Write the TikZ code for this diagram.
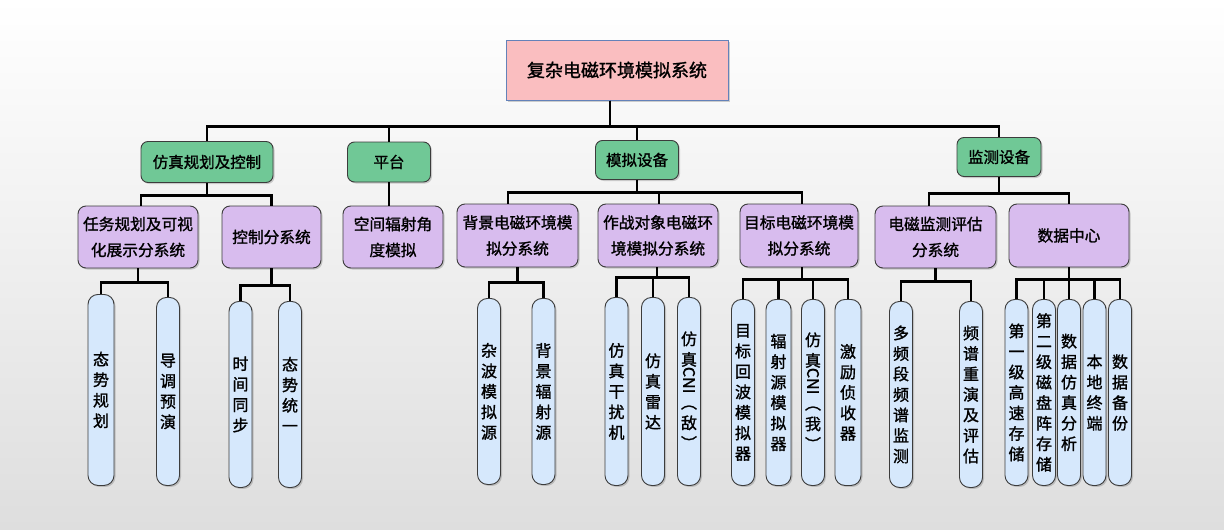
\documentclass[tikz,border=0pt]{standalone}
\usepackage{fontspec}
\usepackage{graphicx}
\setmainfont[FakeBold=1.3]{Noto Sans CJK SC}
\usetikzlibrary{shadows}
\definecolor{rootfill}{RGB}{250,190,192}
\definecolor{rootborder}{RGB}{100,130,185}
\definecolor{greenfill}{RGB}{112,200,150}
\definecolor{purplefill}{RGB}{216,188,238}
\definecolor{tallfill}{RGB}{214,232,252}
\definecolor{boxborder}{RGB}{60,60,60}
\definecolor{bgbottom}{RGB}{222,222,222}
\begin{document}
\begin{tikzpicture}[x=1pt,y=-1pt,
  shadowed/.style={drop shadow={shadow xshift=1.5pt,shadow yshift=-1.5pt,opacity=0.3,fill=black!60}},
  rootbox/.style={draw=rootborder,fill=rootfill,line width=1pt,minimum width=222pt,minimum height=60pt,inner sep=0pt,font=\fontsize{18}{22}\selectfont,shadowed},
  lone/.style={draw=boxborder,fill=greenfill,line width=0.9pt,rounded corners=7pt,inner sep=0pt,font=\fontsize{15.5}{20}\selectfont,shadowed},
  ltwo/.style={draw=boxborder,fill=purplefill,line width=0.9pt,rounded corners=8pt,inner sep=0pt,align=center,font=\fontsize{15.7}{26}\selectfont,shadowed},
  tall/.style={draw=boxborder,fill=tallfill,line width=0.9pt,rounded corners=10pt,inner sep=0pt,anchor=north,minimum width=23pt,align=center,font=\fontsize{16}{20.5}\selectfont,shadowed},
  bus/.style={line width=2.8pt,black}]
\useasboundingbox (0,0) rectangle (1224,530);
\shade[top color=white,bottom color=bgbottom] (0,0) rectangle (1224,530);

% root
\node[rootbox] (root) at (617,70) {复杂电磁环境模拟系统};

% level 1
\node[lone,minimum width=132pt,minimum height=41pt] (g1) at (207,162) {仿真规划及控制};
\node[lone,minimum width=83pt,minimum height=40pt] (g2) at (389,162) {平台};
\node[lone,minimum width=83pt,minimum height=39pt] (g3) at (637,160) {模拟设备};
\node[lone,minimum width=84pt,minimum height=39pt] (g4) at (999,157) {监测设备};

% level 2
\node[ltwo,minimum width=120pt,minimum height=62pt] (p1) at (138,237) {任务规划及可视\\化展示分系统};
\node[ltwo,minimum width=99pt,minimum height=62pt] (p2) at (271.5,237) {控制分系统};
\node[ltwo,minimum width=100pt,minimum height=62pt] (p3) at (393,237) {空间辐射角\\度模拟};
\node[ltwo,minimum width=121pt,minimum height=63pt] (p4) at (517.5,235.5) {背景电磁环境模\\拟分系统};
\node[ltwo,minimum width=120pt,minimum height=63pt] (p5) at (658,235.5) {作战对象电磁环\\境模拟分系统};
\node[ltwo,minimum width=118pt,minimum height=63pt] (p6) at (799,235.5) {目标电磁环境模\\拟分系统};
\node[ltwo,minimum width=121pt,minimum height=62pt] (p7) at (935.5,237) {电磁监测评估\\分系统};
\node[ltwo,minimum width=120pt,minimum height=63pt] (p8) at (1069,235.5) {数据中心};

% level 3
\node[tall,minimum width=26pt,minimum height=191pt] (t1) at (101,294) {态\\势\\规\\划};
\node[tall,minimum height=188pt] (t2) at (168,297) {导\\调\\预\\演};
\node[tall,minimum height=186pt] (t3) at (240.5,301) {时\\间\\同\\步};
\node[tall,minimum height=186pt] (t4) at (290,301) {态\\势\\统\\一};
\node[tall,minimum height=186pt] (t5) at (489,298) {杂\\波\\模\\拟\\源};
\node[tall,minimum height=186pt] (t6) at (543.5,298) {背\\景\\辐\\射\\源};
\node[tall,minimum height=188pt] (t7) at (616.5,297) {仿\\真\\干\\扰\\机};
\node[tall,minimum height=188pt] (t8) at (653,297) {仿\\真\\雷\\达};
\node[tall,minimum height=188pt] (t9) at (689,297) {仿\\真\\\rotatebox[origin=c]{-90}{CNI}\\\rotatebox[origin=c]{-90}{（}\\敌\\\rotatebox[origin=c]{-90}{）}};
\node[tall,minimum height=186pt] (t10) at (743,299) {目\\标\\回\\波\\模\\拟\\器};
\node[tall,minimum width=25pt,minimum height=186pt] (t11) at (778.5,299) {辐\\射\\源\\模\\拟\\器};
\node[tall,minimum height=186pt] (t12) at (813,299) {仿\\真\\\rotatebox[origin=c]{-90}{CNI}\\\rotatebox[origin=c]{-90}{（}\\我\\\rotatebox[origin=c]{-90}{）}};
\node[tall,minimum width=26pt,minimum height=186pt] (t13) at (848,299) {激\\励\\侦\\收\\器};
\node[tall,minimum height=186pt] (t14) at (901,301) {多\\频\\段\\频\\谱\\监\\测};
\node[tall,minimum height=186pt] (t15) at (971,301) {频\\谱\\重\\演\\及\\评\\估};
\node[tall,minimum height=186pt] (t16) at (1016.5,299) {第\\一\\级\\高\\速\\存\\储};
\node[tall,minimum height=186pt] (t17) at (1044,299) {第\\二\\级\\磁\\盘\\阵\\存\\储};
\node[tall,minimum height=186pt] (t18) at (1069,299) {数\\据\\仿\\真\\分\\析};
\node[tall,minimum height=186pt] (t19) at (1094.5,299) {本\\地\\终\\端};
\node[tall,minimum height=186pt] (t20) at (1120,299) {数\\据\\备\\份};

% connectors
\foreach \c in {g1,g2,g3,g4}
  \draw[bus] ([xshift=-7pt]root.south) -- ++(0,26) -| (\c.north);
\foreach \c/\s in {p1/3,p2/0}
  \draw[bus] (g1.south) -- ++(0,12.5) -| ([xshift=\s pt]\c.north);
\draw[bus] (g2.south) -- (g2.south |- p3.north);
\foreach \c/\s in {p4/-9.5,p5/1,p6/3}
  \draw[bus] (g3.south) -- ++(0,12.5) -| ([xshift=\s pt]\c.north);
\foreach \c/\s in {p7/-6.5,p8/0}
  \draw[bus] (g4.south) -- ++(0,16.5) -| ([xshift=\s pt]\c.north);
\foreach \c in {t1,t2}
  \draw[bus] (p1.south) -- ++(0,14) -| (\c.north);
\foreach \c in {t3,t4}
  \draw[bus] (p2.south) -- ++(0,17) -| (\c.north);
\foreach \c in {t5,t6}
  \draw[bus] (p4.south) -- ++(0,15) -| (\c.north);
\foreach \c in {t7,t8,t9}
  \draw[bus] ([xshift=-1pt]p5.south) -- ++(0,10) -| (\c.north);
\foreach \c in {t10,t11,t12,t13}
  \draw[bus] ([xshift=3pt]p6.south) -- ++(0,12) -| (\c.north);
\foreach \c in {t14,t15}
  \draw[bus] (p7.south) -- ++(0,13) -| (\c.north);
\foreach \c in {t16,t17,t18,t19,t20}
  \draw[bus] (p8.south) -- ++(0,12) -| (\c.north);
\end{tikzpicture}
\end{document}
